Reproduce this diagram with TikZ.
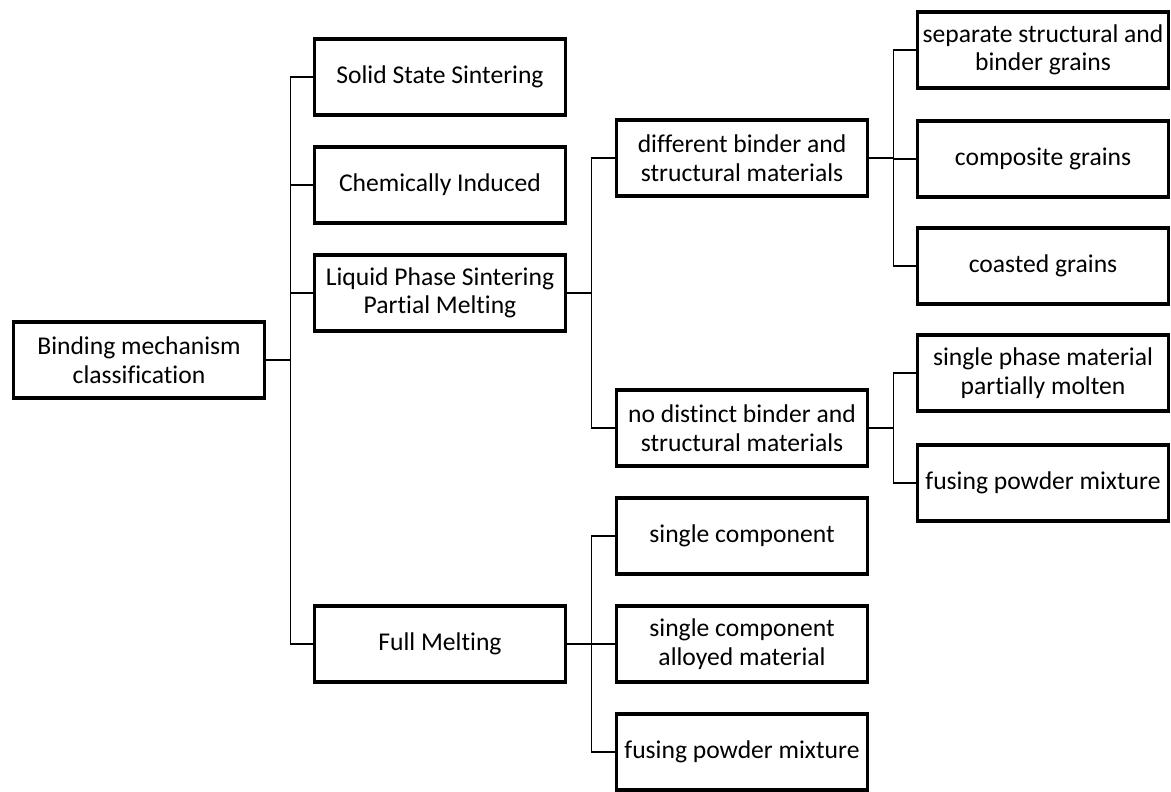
\documentclass[tikz,border=0pt]{standalone}
\usepackage{fontspec}
\setmainfont{Carlito}[Ligatures=CommonOff]
\usetikzlibrary{calc}
\tikzset{box/.style={draw, black, line width=2.6pt, rectangle, minimum width=6.28cm, minimum height=1.9cm, inner sep=2pt, align=center, font=\fontsize{18.2}{20.3}\selectfont},
link/.style={black, line width=0.9pt}}

\begin{document}
\begin{tikzpicture}[x=0.025cm,y=-0.025cm]
\useasboundingbox (0,0) rectangle (1171,791);
\node[box] (root) at (139,360) {Binding mechanism\\classification};
\node[box] (solid) at (440,77) {Solid State Sintering};
\node[box] (chem) at (440,185) {Chemically Induced};
\node[box] (liquid) at (440,293) {Liquid Phase Sintering\\Partial Melting};
\node[box] (full) at (440,644) {Full Melting};
\node[box] (diff) at (742,158) {different binder and\\structural materials};
\node[box] (nodist) at (742,428) {no distinct binder and\\structural materials};
\node[box] (single) at (742,536) {single component};
\node[box] (alloy) at (742,644) {single component\\alloyed material};
\node[box] (fusingA) at (742,752) {fusing powder mixture};
\node[box] (separate) at (1043,50) {separate structural and\\binder grains};
\node[box] (composite) at (1043,159) {composite grains};
\node[box] (coasted) at (1043,266) {coasted grains};
\node[box] (phase) at (1043,373) {single phase material\\partially molten};
\node[box] (fusingB) at (1043,483) {fusing powder mixture};
\foreach \a/\b in {root/solid,root/chem,root/liquid,root/full,liquid/diff,liquid/nodist,full/single,full/alloy,full/fusingA,diff/separate,diff/composite,diff/coasted,nodist/phase,nodist/fusingB}
	\draw[link] (\a.east) -- ++(0.6cm,0) |- (\b.west);
\end{tikzpicture}
\end{document}
